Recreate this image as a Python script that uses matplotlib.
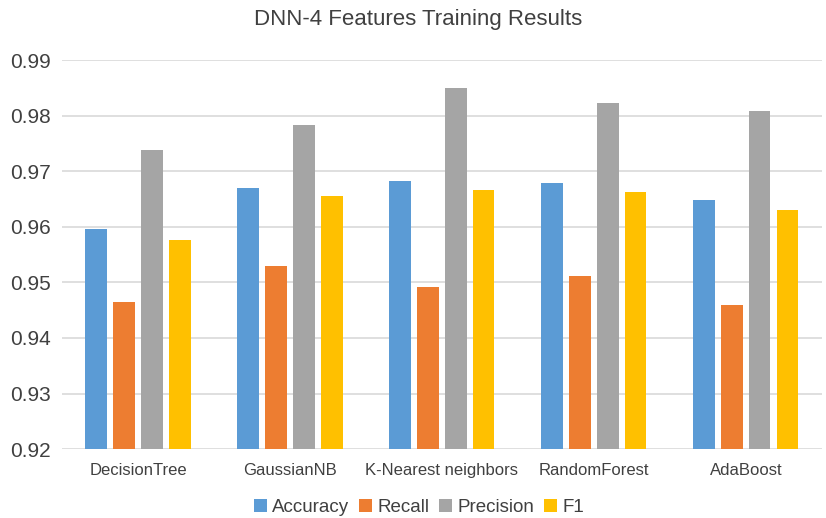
import matplotlib.pyplot as plt
import numpy as np

plt.rcParams['font.family'] = ['Liberation Sans', 'DejaVu Sans']

models = ['DecisionTree', 'GaussianNB', 'K-Nearest neighbors', 'RandomForest', 'AdaBoost']
accuracy = [0.9596, 0.9670, 0.9682, 0.9679, 0.9648]
recall = [0.9465, 0.9530, 0.9492, 0.9511, 0.9459]
precision = [0.9739, 0.9783, 0.9849, 0.9823, 0.9808]
f1 = [0.9577, 0.9655, 0.9666, 0.9663, 0.9630]

series = [('Accuracy', accuracy, '#5B9BD5'),
          ('Recall', recall, '#ED7D31'),
          ('Precision', precision, '#A5A5A5'),
          ('F1', f1, '#FFC000')]

fig = plt.figure(figsize=(8.26, 5.18), dpi=100)
ax = fig.add_axes([0.075, 0.133, 0.92, 0.751])

x = np.arange(len(models))
step = 0.184
w = 0.14
for i, (name, vals, col) in enumerate(series):
    ax.bar(x + (i - 1.5) * step, np.array(vals) - 0.92, bottom=0.92, width=w,
           color=col, label=name, zorder=3)

ax.set_ylim(0.92, 0.99)
ax.set_xlim(-0.5, len(models) - 0.5)
ax.set_yticks(np.arange(0.92, 0.9901, 0.01))
ax.set_yticklabels(['%.2f' % v for v in np.arange(0.92, 0.9901, 0.01)], fontsize=15, color='#404040')
ax.set_xticks(x)
ax.set_xticklabels(models, fontsize=12, color='#404040')
ax.tick_params(length=0, pad=10)
ax.tick_params(axis='y', pad=8)
ax.grid(axis='y', color='#D9D9D9', linewidth=1.2, zorder=0)
for s in ax.spines.values():
    s.set_visible(False)

fig.text(0.506, 0.962, 'DNN-4 Features Training Results', fontsize=16, color='#404040',
         ha='center', va='center')
ax.legend(loc='center', bbox_to_anchor=(0.47, -0.15), ncol=4, frameon=False,
          fontsize=13.5, handlelength=0.7, handleheight=0.7, handletextpad=0.3,
          columnspacing=0.5, labelcolor='#404040', borderpad=0)

fig.savefig('out.png', dpi=100)
